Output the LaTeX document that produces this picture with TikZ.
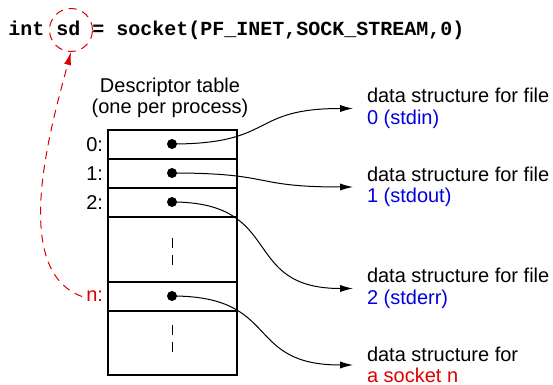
\documentclass[tikz,border=0pt]{standalone}
\usepackage{fontspec}
\setmainfont{Liberation Sans}
\setmonofont{Liberation Mono}
\usetikzlibrary{arrows.meta}
\definecolor{myred}{RGB}{220,0,0}
\definecolor{myblue}{RGB}{0,0,225}
\begin{document}
\begin{tikzpicture}[x=0.5pt,y=-0.5pt,
  every node/.style={font=\fontsize{10}{10.75}\selectfont},
  row/.style={draw, line width=0.6pt, minimum width=64.5pt, inner sep=0pt},
  dot/.style={circle, fill=black, minimum size=5pt, inner sep=0pt},
  rowlab/.style={anchor=east, inner sep=2pt},
  dslabel/.style={anchor=west, align=left, inner xsep=6.8pt, inner ysep=0pt},
  ptr/.style={line width=0.5pt, -{Latex[length=6.5pt,width=3.6pt]}, out=0, in=180, looseness=1.45},
  reddash/.style={myred, line width=0.5pt, dash pattern=on 4pt off 3pt},
  vdash/.style={line width=0.5pt, dash pattern=on 5pt off 3.5pt}]
\useasboundingbox (0,0) rectangle (553,385);

% code line
\node[anchor=base west, inner sep=0pt, font=\fontsize{10}{12}\selectfont\ttfamily\bfseries] (code) at (8,36)
  {int sd = socket(PF\_INET,SOCK\_STREAM,0)};
\node[circle, draw=myred, line width=0.5pt, dash pattern=on 4pt off 3pt, minimum size=21.5pt, inner sep=0pt] (sdc) at (71,30) {};

% title
\node[align=center, inner sep=0pt] (title) at (170,98) {Descriptor table\\(one per process)};

% table rows
\node[row, minimum height=14.5pt] (r0) at (172.5,144.5) {};
\node[row, minimum height=14.5pt] (r1) at (172.5,173.5) {};
\node[row, minimum height=14.5pt] (r2) at (172.5,202.5) {};
\node[row, minimum height=32.5pt] (r3) at (172.5,249.5) {};
\node[row, minimum height=14.5pt] (r4) at (172.5,296.5) {};
\node[row, minimum height=32pt] (r5) at (172.5,343) {};

\draw[vdash] (172,238) -- (172,267);
\draw[vdash] (172,325) -- (172,353);

% row labels
\node[rowlab] (l0) at (r0.west) {0:};
\node[rowlab] (l1) at (r1.west) {1:};
\node[rowlab] (l2) at (r2.west) {2:};
\node[rowlab, text=myred] (ln) at (r4.west) {n:};

% dots
\node[dot] (d0) at (172,144) {};
\node[dot] (d1) at (172,173) {};
\node[dot] (d2) at (172,202) {};
\node[dot] (dn) at (172,296) {};

% data structure labels
\node[dslabel] (s0) at (353,108.5) {data structure for file\\\textcolor{myblue}{0 (stdin)}};
\node[dslabel] (s1) at (353,187) {data structure for file\\\textcolor{myblue}{1 (stdout)}};
\node[dslabel] (s2) at (353,288.5) {data structure for file\\\textcolor{myblue}{2 (stderr)}};
\node[dslabel] (s3) at (353,365) {data structure for\\\textcolor{myred}{a socket n}};

% pointers
\draw[ptr] (d0.center) to (s0.west);
\draw[ptr] (d1.center) to (s1.west);
\draw[ptr] (d2.center) to (s2.west);
\draw[ptr] (dn.center) to (s3.west);

% red dashed arrow
\draw[reddash, -{Latex[length=6.5pt,width=3.6pt]}] (ln.west) .. controls (10,270) and (50,130) .. (sdc.south);
\end{tikzpicture}
\end{document}
